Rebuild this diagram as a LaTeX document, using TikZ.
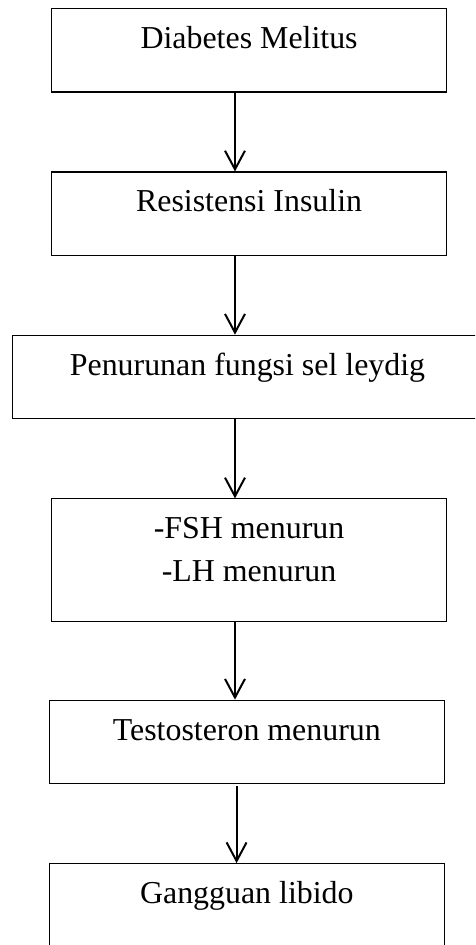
\documentclass[tikz,border=0pt]{standalone}
\usepackage{fontspec}
\setmainfont{Liberation Serif}
\usetikzlibrary{arrows.meta,positioning}

\tikzset{
	kotak/.style={draw, line width=0.4pt, minimum width=148.6pt, inner xsep=0pt, inner ysep=0pt,
		align=center, font=\fontsize{12}{16.1}\selectfont, text height=15pt, text depth=16.4pt},
	panah/.style={line width=0.75pt, -{Straight Barb[length=7pt,width=7.5pt]}}
}

\begin{document}
\begin{tikzpicture}
	%%%%% START %%%%%
	
	\useasboundingbox (0, 0) rectangle (178.7pt, -355.5pt);
	\clip (0, 0) rectangle (178.7pt, -355.5pt);
	
	\node[kotak, anchor=north] (dm) at (93.7pt, -3pt) {Diabetes Melitus};
	\node[kotak, below=29.7pt of dm] (ri) {Resistensi Insulin};
	\node[kotak, below=29.6pt of ri, minimum width=177pt, xshift=-0.6pt] (leydig) {Penurunan fungsi sel leydig};
	\node[kotak, below=29.8pt of leydig, xshift=0.6pt, text height=31.1pt, text depth=15.1pt] (hormon) {-FSH menurun\\-LH menurun};
	\node[kotak, below=29.1pt of hormon, xshift=-0.85pt] (testo) {Testosteron menurun};
	\node[kotak, below=29.7pt of testo] (libido) {Gangguan libido};
	
	% garis panah antar kotak
	\coordinate (jalur) at (88.4pt, 0);
	\coordinate (jalur2) at (89.0pt, 0);
	
	\draw[panah] (dm.south -| jalur) -- (ri.north -| jalur);
	\draw[panah] (ri.south -| jalur) -- (leydig.north -| jalur);
	\draw[panah] (leydig.south -| jalur) -- (hormon.north -| jalur);
	\draw[panah] (hormon.south -| jalur) -- (testo.north -| jalur);
	\draw[panah] ([yshift=-0.75pt]testo.south -| jalur2) -- (libido.north -| jalur2);
	
	%%%%% END %%%%%
\end{tikzpicture}
\end{document}
